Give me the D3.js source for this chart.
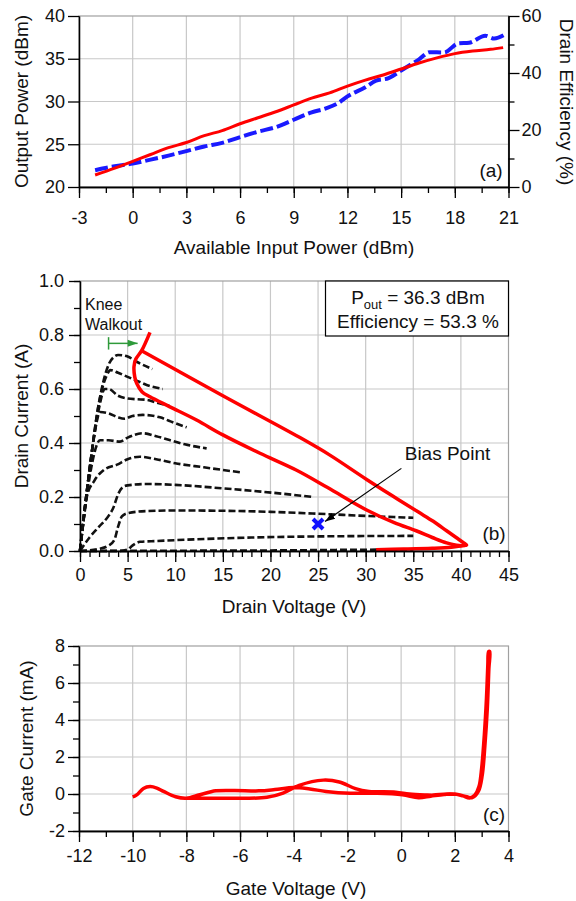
<!DOCTYPE html>
<html>
<head>
<meta charset="utf-8">
<script src="https://cdn.jsdelivr.net/npm/d3@7"></script>
<style>
    body { margin: 0; background: #fff; }
</style>
</head>
<body>
<div id="chart"></div>
<script>
'use strict';

// (a) output power and drain efficiency vs available input power
var inputPower = [-2.1, -1, 0, 1, 2, 3, 4, 5, 6, 7, 8, 9, 10, 11, 12, 13, 14, 15, 16, 17, 18, 19, 20, 20.7];
var outputPower = [21.4, 22.2, 23.0, 23.8, 24.6, 25.2, 26.0, 26.6, 27.4, 28.1, 28.8, 29.6, 30.4, 31.0, 31.8, 32.5, 33.1, 33.8, 34.5, 35.1, 35.6, 35.9, 36.1, 36.3];
var effInputPower = [-2.1, -1, 0, 1, 2, 3, 4, 5, 6, 7, 8, 9, 10, 10.8, 11.5, 12, 13, 13.6, 14.3, 15, 16, 16.6, 17.4, 18.2, 18.8, 19.7, 20.2, 20.8];
var drainEfficiency = [5.9, 7.3, 8.2, 9.6, 11.0, 12.6, 14.2, 15.5, 17.5, 19.4, 21.0, 23.6, 26.2, 27.6, 29.5, 31.8, 35.0, 37.3, 38.2, 40.9, 44.8, 47.3, 47.2, 50.4, 50.6, 53.1, 52.1, 53.5];
var inputTicks = [-3, 0, 3, 6, 9, 12, 15, 18, 21];
var poutTicks = [20, 25, 30, 35, 40];
var effTicks = [0, 20, 40, 60];

// (b) DC-IV curves [V, A], one per gate bias
var ivCurves = [
    [[0, 0], [1, 0.3], [2, 0.55], [3, 0.69], [3.6, 0.72], [4, 0.726], [5, 0.72], [6, 0.7], [7.6, 0.674]],
    [[0, 0], [1, 0.3], [2, 0.55], [2.8, 0.65], [3.2, 0.67], [4, 0.66], [5, 0.645], [6, 0.63], [7, 0.615], [8.7, 0.6]],
    [[0, 0], [1, 0.3], [2, 0.53], [2.6, 0.6], [3, 0.6], [4, 0.575], [5, 0.565], [6, 0.562], [7, 0.56], [8, 0.55], [9.4, 0.537]],
    [[0, 0], [1, 0.3], [1.6, 0.45], [2.1, 0.515], [3, 0.51], [4, 0.495], [4.7, 0.49], [5.5, 0.5], [6.6, 0.504], [8.4, 0.495], [9.5, 0.48], [11.2, 0.458]],
    [[0, 0], [0.7, 0.2], [1.3, 0.33], [2.1, 0.41], [3, 0.41], [4.2, 0.405], [5, 0.42], [6.6, 0.436], [8, 0.425], [9.4, 0.411], [11, 0.395], [13.3, 0.38]],
    [[0, 0], [0.7, 0.2], [1.5, 0.26], [2.5, 0.3], [3.9, 0.32], [5, 0.34], [6.3, 0.349], [8, 0.34], [10, 0.325], [13, 0.31], [16.9, 0.291]],
    [[0, 0], [1, 0.05], [2, 0.09], [3, 0.13], [3.5, 0.16], [4, 0.21], [4.5, 0.237], [5, 0.243], [7, 0.248], [10, 0.245], [15, 0.232], [19, 0.22], [24.5, 0.2]],
    [[0, 0], [2, 0.008], [3, 0.02], [3.6, 0.04], [4, 0.09], [4.4, 0.128], [5, 0.14], [7, 0.148], [10, 0.15], [15, 0.149], [20, 0.145], [25, 0.138], [30, 0.13], [35, 0.123]],
    [[0, 0], [4, 0], [5, 0.005], [5.5, 0.02], [6.3, 0.034], [8, 0.037], [12, 0.043], [18, 0.05], [25, 0.054], [35, 0.056]],
    [[0, 0], [10, 0.001], [20, 0.002], [27, 0.004], [35, 0.006]]
];
// dynamic load line, outer and inner branches
var loadOuterV = [31.1, 34, 37, 39, 40.2, 40.6, 40.3, 39.5, 38.5, 37.1, 35.5, 33, 30.1, 26.2, 23.1, 15, 6.47];
var loadOuterI = [0.005, 0.007, 0.01, 0.014, 0.02, 0.022, 0.03, 0.05, 0.075, 0.11, 0.145, 0.2, 0.265, 0.356, 0.42, 0.575, 0.742];
var loadInnerV = [7.35, 6.47, 5.85, 5.67, 5.75, 5.95, 6.5, 7.35, 9.44, 12.24, 15, 18.9, 22.7, 26, 30.1, 33, 35.3, 37, 38.5, 39.8, 40.6];
var loadInnerI = [0.81, 0.742, 0.71, 0.683, 0.645, 0.621, 0.59, 0.571, 0.534, 0.485, 0.43, 0.362, 0.30, 0.235, 0.152, 0.105, 0.075, 0.05, 0.03, 0.02, 0.022];
var biasPoint = [25, 0.1];
var vdsTicks = [0, 5, 10, 15, 20, 25, 30, 35, 40, 45];
var idTicks = [0, 0.2, 0.4, 0.6, 0.8, 1.0];

// (c) gate current loop
var gateV = [-10.0, -9.85, -9.6, -9.35, -9.1, -8.85, -8.4, -8.0, -7.5, -6.9, -6.2, -5.3, -4.7, -4.0, -3.4, -2.8, -1.9, -0.9, 0.05, 0.65, 1.1, 1.6, 2.0, 2.3, 2.55, 2.75, 2.9, 3.0, 3.1, 3.18, 3.23, 3.26,
    3.3, 3.27, 3.21, 3.12, 3.02, 2.88, 2.65, 2.45, 2.1, 1.7, 1.2, 0.9, 0.3, -0.2, -1.2, -1.7, -2.3, -2.9, -3.8, -4.4, -5.0, -5.9, -7.1, -8.0];
var gateI = [-0.16, -0.05, 0.3, 0.40, 0.32, 0.14, -0.15, -0.23, -0.04, 0.17, 0.19, 0.17, 0.24, 0.35, 0.27, 0.14, 0.04, 0.04, -0.04, -0.2, -0.12, -0.03, 0.0, -0.1, -0.22, -0.05, 0.4, 1.4, 3.2, 5.2, 7.0, 7.7,
    7.7, 6.8, 4.6, 2.6, 1.0, 0.15, -0.2, -0.15, -0.02, 0.0, -0.06, -0.05, 0.0, 0.1, 0.14, 0.29, 0.65, 0.75, 0.47, 0.05, -0.18, -0.23, -0.23, -0.23];
var vgsTicks = [-12, -10, -8, -6, -4, -2, 0, 2, 4];
var igTicks = [-2, 0, 2, 4, 6, 8];

var FONT = 'Arial, "Liberation Sans", sans-serif';
var LEFT = 79, RIGHT = 508.5;

var svg = d3.select('#chart').append('svg')
    .attr('width', 576)
    .attr('height', 901)
    .style('font-family', FONT);

function zip(a, b) {
    return a.map(function (d, i) { return [d, b[i]]; });
}

function grid(g, x, y, xs, ys) {
    g.append('g').selectAll('line').data(xs).enter().append('line')
        .attr('x1', function (d) { return x(d); })
        .attr('x2', function (d) { return x(d); })
        .attr('y1', y.range()[0]).attr('y2', y.range()[1])
        .attr('stroke', '#c8c8c8').attr('stroke-width', 1.2);
    g.append('g').selectAll('line').data(ys).enter().append('line')
        .attr('y1', function (d) { return y(d); })
        .attr('y2', function (d) { return y(d); })
        .attr('x1', x.range()[0]).attr('x2', x.range()[1])
        .attr('stroke', '#c8c8c8').attr('stroke-width', 1.2);
    g.append('rect')
        .attr('x', x.range()[0]).attr('y', y.range()[1])
        .attr('width', x.range()[1] - x.range()[0])
        .attr('height', y.range()[0] - y.range()[1])
        .attr('fill', 'none').attr('stroke', '#a0a0a0').attr('stroke-width', 1.2);
}

function axis(g, make, scale, major, minor, fmt, pad, transform) {
    g.append('g').attr('transform', transform)
        .call(make(scale).tickValues(minor).tickSize(6).tickSizeOuter(0).tickFormat(''));
    var a = g.append('g').attr('transform', transform)
        .call(make(scale).tickValues(major).tickSize(11).tickSizeOuter(0).tickPadding(pad).tickFormat(fmt));
    g.selectAll('.domain, .tick line').attr('stroke', '#000').attr('stroke-width', 1.3);
    a.selectAll('text')
        .attr('font-size', 18)
        .attr('font-family', FONT)
        .attr('fill', '#111');
    return a;
}

function label(text, x, y, rotate, size) {
    return svg.append('text')
        .attr('transform', 'translate(' + x + ',' + y + ')' + (rotate ? ' rotate(' + rotate + ')' : ''))
        .attr('text-anchor', 'middle')
        .attr('font-size', size || 19)
        .attr('fill', '#111')
        .text(text);
}

var plain = function (d) { return String(d); };

//================
// (a)
//================
var xa = d3.scaleLinear().domain([-3, 21]).range([LEFT, RIGHT]);
var ya = d3.scaleLinear().domain([20, 40]).range([187, 16]);
var ya2 = d3.scaleLinear().domain([0, 60]).range([187, 16]);
var ga = svg.append('g');

grid(ga, xa, ya, inputTicks.slice(1, -1), poutTicks.slice(1, -1));
axis(ga, d3.axisBottom, xa, inputTicks, d3.range(-3, 21.1, 1.5), plain, 13, 'translate(0,187)');
axis(ga, d3.axisLeft, ya, poutTicks, [], plain, 3, 'translate(' + LEFT + ',0)');
axis(ga, d3.axisRight, ya2, effTicks, [10, 30, 50], plain, 2, 'translate(' + RIGHT + ',0)');

ga.append('path')
    .datum(zip(effInputPower, drainEfficiency))
    .attr('fill', 'none')
    .attr('stroke', '#1a1aff')
    .attr('stroke-width', 4)
    .attr('stroke-dasharray', '13,4')
    .attr('d', d3.line()
        .x(function (d) { return xa(d[0]); })
        .y(function (d) { return ya2(d[1]); })
        .curve(d3.curveMonotoneX));

ga.append('path')
    .datum(zip(inputPower, outputPower))
    .attr('fill', 'none')
    .attr('stroke', '#ff0000')
    .attr('stroke-width', 3)
    .attr('d', d3.line()
        .x(function (d) { return xa(d[0]); })
        .y(function (d) { return ya(d[1]); })
        .curve(d3.curveMonotoneX));

label('(a)', 491, 177);
label('Available Input Power (dBm)', 294, 253.5);
label('Output Power (dBm)', 28, 101.5, -90);
label('Drain Efficiency (%)', 560, 102, 90);

//================
// (b)
//================
var xb = d3.scaleLinear().domain([0, 45]).range([LEFT + 1, RIGHT]);
var yb = d3.scaleLinear().domain([0, 1]).range([551, 281]);
var gb = svg.append('g');

grid(gb, xb, yb, vdsTicks.slice(1, -1), idTicks.slice(1, -1));

var ivLine = d3.line()
    .x(function (d) { return xb(d[0]); })
    .y(function (d) { return yb(d[1]); })
    .curve(d3.curveMonotoneX);

gb.append('g').selectAll('path')
    .data(ivCurves)
    .enter()
    .append('path')
    .attr('fill', 'none')
    .attr('stroke', '#111')
    .attr('stroke-width', 2.6)
    .attr('stroke-dasharray', '7,3')
    .attr('d', ivLine);

var loadLine = d3.line()
    .x(function (d) { return xb(d[0]); })
    .y(function (d) { return yb(d[1]); })
    .curve(d3.curveCatmullRom.alpha(0.5));

gb.append('g').selectAll('path')
    .data([zip(loadOuterV, loadOuterI), zip(loadInnerV, loadInnerI)])
    .enter()
    .append('path')
    .attr('fill', 'none')
    .attr('stroke', '#ff0000')
    .attr('stroke-width', 3.5)
    .attr('stroke-linejoin', 'round')
    .attr('d', loadLine);

axis(gb, d3.axisBottom, xb, vdsTicks, d3.range(0, 45.1, 1), plain, 6, 'translate(0,551)');
axis(gb, d3.axisLeft, yb, idTicks, d3.range(0, 1.01, 0.1), d3.format('.1f'), 5, 'translate(' + (LEFT + 1) + ',0)');

// bias point marker
var bx = xb(biasPoint[0]), by = yb(biasPoint[1]);
gb.append('path')
    .attr('d', 'M' + (bx - 5) + ',' + (by - 5) + 'L' + (bx + 5) + ',' + (by + 5) +
        'M' + (bx - 5) + ',' + (by + 5) + 'L' + (bx + 5) + ',' + (by - 5))
    .attr('stroke', '#1010ff')
    .attr('stroke-width', 4);

svg.append('defs').append('marker')
    .attr('id', 'head')
    .attr('viewBox', '0 0 10 10')
    .attr('refX', 10).attr('refY', 5)
    .attr('markerWidth', 10).attr('markerHeight', 10)
    .attr('markerUnits', 'userSpaceOnUse')
    .attr('orient', 'auto')
    .append('path')
    .attr('d', 'M0,1.5L10,5L0,8.5Z')
    .attr('fill', '#000');

gb.append('line')
    .attr('x1', xb(33.75)).attr('y1', yb(0.306))
    .attr('x2', bx + 7).attr('y2', by - 2.5)
    .attr('stroke', '#000').attr('stroke-width', 1.2)
    .attr('marker-end', 'url(#head)');

svg.append('text')
    .attr('x', xb(34.1)).attr('y', 460)
    .attr('font-size', 19).attr('fill', '#111')
    .text('Bias Point');

// knee walkout arrow
svg.append('defs').append('marker')
    .attr('id', 'greenhead')
    .attr('viewBox', '0 0 10 10')
    .attr('refX', 10).attr('refY', 5)
    .attr('markerWidth', 11).attr('markerHeight', 10)
    .attr('markerUnits', 'userSpaceOnUse')
    .attr('orient', 'auto')
    .append('path')
    .attr('d', 'M0,1.5L10,5L0,8.5Z')
    .attr('fill', '#2e9a3a');

gb.append('line')
    .attr('x1', xb(3)).attr('x2', xb(6.05))
    .attr('y1', yb(0.769)).attr('y2', yb(0.769))
    .attr('stroke', '#2e9a3a').attr('stroke-width', 1.5)
    .attr('marker-end', 'url(#greenhead)');
gb.append('line')
    .attr('x1', xb(3)).attr('x2', xb(3))
    .attr('y1', yb(0.746)).attr('y2', yb(0.792))
    .attr('stroke', '#2e9a3a').attr('stroke-width', 1.5);

svg.append('text').attr('x', 85).attr('y', 310).attr('font-size', 16).attr('fill', '#111').text('Knee');
svg.append('text').attr('x', 85).attr('y', 330).attr('font-size', 16).attr('fill', '#111').text('Walkout');

// result box
gb.append('rect')
    .attr('x', 325.5).attr('y', 281)
    .attr('width', RIGHT - 325.5).attr('height', 55)
    .attr('fill', '#fff').attr('stroke', '#000').attr('stroke-width', 1.2);

var pout = svg.append('text')
    .attr('x', 418).attr('y', 304)
    .attr('text-anchor', 'middle')
    .attr('font-size', 19).attr('fill', '#111');
pout.append('tspan').text('P');
pout.append('tspan').attr('font-size', 13).attr('dy', 5).text('out');
pout.append('tspan').attr('dy', -5).text(' = 36.3 dBm');

label('Efficiency = 53.3 %', 418, 328);
label('(b)', 494, 540);
label('Drain Voltage (V)', 294, 613);
label('Drain Current (A)', 28, 416, -90);

//================
// (c)
//================
var xc = d3.scaleLinear().domain([-12, 4]).range([LEFT, RIGHT]);
var yc = d3.scaleLinear().domain([-2, 8]).range([831, 646]);
var gc = svg.append('g');

grid(gc, xc, yc, vgsTicks.slice(1, -1), igTicks.slice(1, -1));
axis(gc, d3.axisBottom, xc, vgsTicks, d3.range(-12, 4.1, 1), plain, 7, 'translate(0,831)');
axis(gc, d3.axisLeft, yc, igTicks, d3.range(-2, 8.1, 1), plain, 3, 'translate(' + LEFT + ',0)');

gc.append('path')
    .datum(zip(gateV, gateI))
    .attr('fill', 'none')
    .attr('stroke', '#ff0000')
    .attr('stroke-width', 3.5)
    .attr('stroke-linejoin', 'round')
    .attr('d', d3.line()
        .x(function (d) { return xc(d[0]); })
        .y(function (d) { return yc(d[1]); })
        .curve(d3.curveCatmullRom.alpha(0.5)));

label('(c)', 494, 821);
label('Gate Voltage (V)', 296, 895);
label('Gate Current (mA)', 33, 738.5, -90);
</script>
</body>
</html>
